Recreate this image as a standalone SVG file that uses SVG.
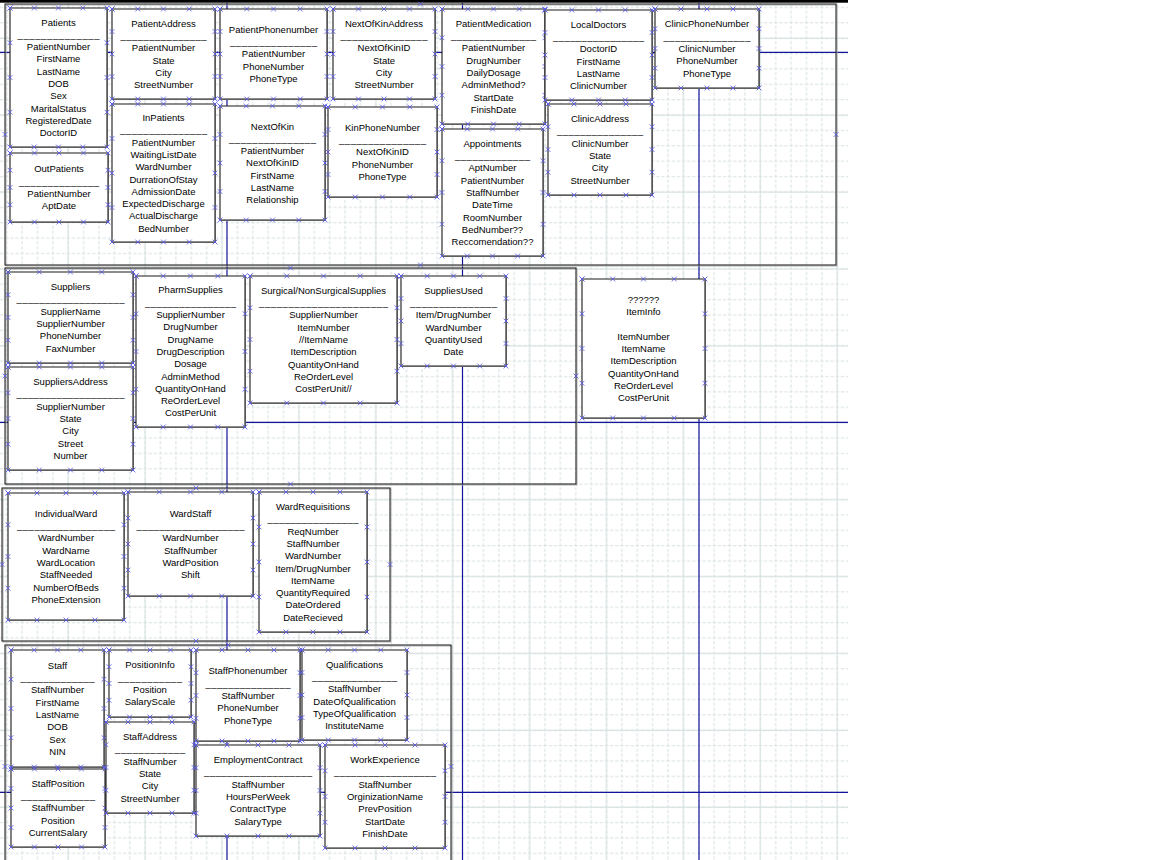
<svg xmlns="http://www.w3.org/2000/svg" width="1150" height="860" viewBox="0 0 1150 860">
<defs>
<style>
text{font-family:"Liberation Sans",Arial,sans-serif;font-size:9.5px;text-anchor:middle;fill:#000}
.box{fill:#fff;stroke:#1a1a1a;stroke-width:1.1;marker-start:url(#cp);marker-mid:url(#cp);marker-end:url(#cp)}
.sh{fill:#a4a4a4}
.ct{fill:none;stroke:#262626;stroke-width:1.1}
.cts{fill:none;stroke:#b0b0b0;stroke-width:1}
.cpts{fill:none;stroke:none;marker-start:url(#cp);marker-mid:url(#cp);marker-end:url(#cp)}
.guide{stroke:#14149a;stroke-width:1.2;fill:none}
</style>
<marker id="cp" markerUnits="userSpaceOnUse" markerWidth="6" markerHeight="6" refX="3" refY="3" overflow="visible">
<path d="M0.6 0.6L5.4 5.4M5.4 0.6L0.6 5.4" stroke="#5858e6" stroke-width="0.85" fill="none"/>
</marker>
<pattern id="minor" width="15.38" height="15.38" patternUnits="userSpaceOnUse">
<path d="M0 7.54H15.38M6.68 0V15.38" stroke="#d6e0e0" stroke-width="1" stroke-dasharray="3.4 1.727" fill="none"/>
</pattern>
<pattern id="major" width="76.9" height="76.9" patternUnits="userSpaceOnUse">
<path d="M0 38.3H76.9M68.2 0V76.9" stroke="#dbe4e4" stroke-width="1.2" fill="none"/>
</pattern>
</defs>
<rect x="0" y="0" width="1150" height="860" fill="#fff"/>
<g id="grid">
<rect x="0" y="3" width="848" height="857" fill="url(#minor)"/>
<rect x="0" y="3" width="848" height="857" fill="url(#major)"/>
<rect x="0" y="0" width="848" height="2.7" fill="#000"/>
</g>
<g id="guides">
<path class="guide" d="M227 3V860M462.5 3V860M699 3V860M0 52.3H848M0 422.3H848M0 792.3H848"/>
</g>
<g id="containers">
<rect class="cts" x="6" y="5" width="831" height="261"/>
<rect class="ct" x="5" y="4" width="831" height="261"/>
<polyline class="cpts" points="420.5,4 836,134.5 420.5,265 5,134.5"/>
<rect class="cts" x="6" y="269" width="571" height="216"/>
<rect class="ct" x="5" y="268" width="571" height="216"/>
<polyline class="cpts" points="290.5,268 576,376 290.5,484 5,376"/>
<rect class="cts" x="3" y="489" width="388" height="153"/>
<rect class="ct" x="2" y="488" width="388" height="153"/>
<polyline class="cpts" points="196,488 390,564.5 196,641 2,564.5"/>
<rect class="cts" x="6" y="646" width="446" height="243"/>
<rect class="ct" x="5" y="645" width="446" height="243"/>
<polyline class="cpts" points="228,645 451,766.5 5,766.5"/>
</g>

<g id="patients">
<rect class="sh" x="11" y="9" width="97" height="139"/>
<path class="box" d="M10 8h24.25h24.25h24.25h24.25v34.75v34.75v34.75v34.75h-24.25h-24.25h-24.25h-24.25v-34.75v-34.75v-34.75z"/>
<text x="58.5" y="25.55">Patients</text>
<text x="58.5" y="37.85" textLength="82" lengthAdjust="spacing">______________</text>
<text x="58.5" y="50.15"><tspan x="58.5">PatientNumber</tspan><tspan x="58.5" dy="12.3">FirstName</tspan><tspan x="58.5" dy="12.3">LastName</tspan><tspan x="58.5" dy="12.3">DOB</tspan><tspan x="58.5" dy="12.3">Sex</tspan><tspan x="58.5" dy="12.3">MaritalStatus</tspan><tspan x="58.5" dy="12.3">RegisteredDate</tspan><tspan x="58.5" dy="12.3">DoctorID</tspan></text>
</g>
<g id="outpatients">
<rect class="sh" x="11" y="154" width="98" height="69"/>
<path class="box" d="M10 153h24.5h24.5h24.5h24.5v17.25v17.25v17.25v17.25h-24.5h-24.5h-24.5h-24.5v-17.25v-17.25v-17.25z"/>
<text x="59" y="172.45">OutPatients</text>
<text x="59" y="184.75" textLength="80" lengthAdjust="spacing">______________</text>
<text x="59" y="197.05"><tspan x="59">PatientNumber</tspan><tspan x="59" dy="12.3">AptDate</tspan></text>
</g>
<g id="patientaddress">
<rect class="sh" x="113" y="10" width="103" height="90"/>
<path class="box" d="M112 9h25.75h25.75h25.75h25.75v22.5v22.5v22.5v22.5h-25.75h-25.75h-25.75h-25.75v-22.5v-22.5v-22.5z"/>
<text x="163.5" y="26.65">PatientAddress</text>
<text x="163.5" y="38.95" textLength="86" lengthAdjust="spacing">_______________</text>
<text x="163.5" y="51.25"><tspan x="163.5">PatientNumber</tspan><tspan x="163.5" dy="12.3">State</tspan><tspan x="163.5" dy="12.3">City</tspan><tspan x="163.5" dy="12.3">StreetNumber</tspan></text>
</g>
<g id="inpatients">
<rect class="sh" x="113" y="105" width="103" height="138"/>
<path class="box" d="M112 104h25.75h25.75h25.75h25.75v34.5v34.5v34.5v34.5h-25.75h-25.75h-25.75h-25.75v-34.5v-34.5v-34.5z"/>
<text x="163.5" y="121.05">InPatients</text>
<text x="163.5" y="133.35" textLength="87" lengthAdjust="spacing">_______________</text>
<text x="163.5" y="145.65"><tspan x="163.5">PatientNumber</tspan><tspan x="163.5" dy="12.3">WaitingListDate</tspan><tspan x="163.5" dy="12.3">WardNumber</tspan><tspan x="163.5" dy="12.3">DurrationOfStay</tspan><tspan x="163.5" dy="12.3">AdmissionDate</tspan><tspan x="163.5" dy="12.3">ExpectedDischarge</tspan><tspan x="163.5" dy="12.3">ActualDischarge</tspan><tspan x="163.5" dy="12.3">BedNumber</tspan></text>
</g>
<g id="patientphonenumber">
<rect class="sh" x="221" y="10" width="107" height="90"/>
<path class="box" d="M220 9h26.75h26.75h26.75h26.75v22.5v22.5v22.5v22.5h-26.75h-26.75h-26.75h-26.75v-22.5v-22.5v-22.5z"/>
<text x="273.5" y="32.8">PatientPhonenumber</text>
<text x="273.5" y="45.1" textLength="87" lengthAdjust="spacing">_______________</text>
<text x="273.5" y="57.4"><tspan x="273.5">PatientNumber</tspan><tspan x="273.5" dy="12.3">PhoneNumber</tspan><tspan x="273.5" dy="12.3">PhoneType</tspan></text>
</g>
<g id="nextofkin">
<rect class="sh" x="221" y="107" width="105" height="114"/>
<path class="box" d="M220 106h26.25h26.25h26.25h26.25v28.5v28.5v28.5v28.5h-26.25h-26.25h-26.25h-26.25v-28.5v-28.5v-28.5z"/>
<text x="272.5" y="129.5">NextOfKin</text>
<text x="272.5" y="141.8" textLength="87" lengthAdjust="spacing">_______________</text>
<text x="272.5" y="154.1"><tspan x="272.5">PatientNumber</tspan><tspan x="272.5" dy="12.3">NextOfKinID</tspan><tspan x="272.5" dy="12.3">FirstName</tspan><tspan x="272.5" dy="12.3">LastName</tspan><tspan x="272.5" dy="12.3">Relationship</tspan></text>
</g>
<g id="nextofkinaddress">
<rect class="sh" x="334" y="10" width="102" height="90"/>
<path class="box" d="M333 9h25.5h25.5h25.5h25.5v22.5v22.5v22.5v22.5h-25.5h-25.5h-25.5h-25.5v-22.5v-22.5v-22.5z"/>
<text x="384" y="26.65">NextOfKinAddress</text>
<text x="384" y="38.95" textLength="87" lengthAdjust="spacing">_______________</text>
<text x="384" y="51.25"><tspan x="384">NextOfKinID</tspan><tspan x="384" dy="12.3">State</tspan><tspan x="384" dy="12.3">City</tspan><tspan x="384" dy="12.3">StreetNumber</tspan></text>
</g>
<g id="kinphonenumber">
<rect class="sh" x="329" y="108" width="109" height="90"/>
<path class="box" d="M328 107h27.25h27.25h27.25h27.25v22.5v22.5v22.5v22.5h-27.25h-27.25h-27.25h-27.25v-22.5v-22.5v-22.5z"/>
<text x="382.5" y="130.8">KinPhoneNumber</text>
<text x="382.5" y="143.1" textLength="87" lengthAdjust="spacing">_______________</text>
<text x="382.5" y="155.4"><tspan x="382.5">NextOfKinID</tspan><tspan x="382.5" dy="12.3">PhoneNumber</tspan><tspan x="382.5" dy="12.3">PhoneType</tspan></text>
</g>
<g id="patientmedication">
<rect class="sh" x="443" y="10" width="103" height="115"/>
<path class="box" d="M442 9h25.75h25.75h25.75h25.75v28.75v28.75v28.75v28.75h-25.75h-25.75h-25.75h-25.75v-28.75v-28.75v-28.75z"/>
<text x="493.5" y="26.85">PatientMedication</text>
<text x="493.5" y="39.15" textLength="85" lengthAdjust="spacing">_______________</text>
<text x="493.5" y="51.45"><tspan x="493.5">PatientNumber</tspan><tspan x="493.5" dy="12.3">DrugNumber</tspan><tspan x="493.5" dy="12.3">DailyDosage</tspan><tspan x="493.5" dy="12.3">AdminMethod?</tspan><tspan x="493.5" dy="12.3">StartDate</tspan><tspan x="493.5" dy="12.3">FinishDate</tspan></text>
</g>
<g id="appointments">
<rect class="sh" x="443" y="130" width="101" height="127"/>
<path class="box" d="M442 129h25.25h25.25h25.25h25.25v31.75v31.75v31.75v31.75h-25.25h-25.25h-25.25h-25.25v-31.75v-31.75v-31.75z"/>
<text x="492.5" y="146.7">Appointments</text>
<text x="492.5" y="159" textLength="75" lengthAdjust="spacing">_____________</text>
<text x="492.5" y="171.3"><tspan x="492.5">AptNumber</tspan><tspan x="492.5" dy="12.3">PatientNumber</tspan><tspan x="492.5" dy="12.3">StaffNumber</tspan><tspan x="492.5" dy="12.3">DateTime</tspan><tspan x="492.5" dy="12.3">RoomNumber</tspan><tspan x="492.5" dy="12.3">BedNumber??</tspan><tspan x="492.5" dy="12.3">Reccomendation??</tspan></text>
</g>
<g id="localdoctors">
<rect class="sh" x="546" y="11" width="107" height="90"/>
<path class="box" d="M545 10h26.75h26.75h26.75h26.75v22.5v22.5v22.5v22.5h-26.75h-26.75h-26.75h-26.75v-22.5v-22.5v-22.5z"/>
<text x="598.5" y="27.65">LocalDoctors</text>
<text x="598.5" y="39.95" textLength="91" lengthAdjust="spacing">________________</text>
<text x="598.5" y="52.25"><tspan x="598.5">DoctorID</tspan><tspan x="598.5" dy="12.3">FirstName</tspan><tspan x="598.5" dy="12.3">LastName</tspan><tspan x="598.5" dy="12.3">ClinicNumber</tspan></text>
</g>
<g id="clinicaddress">
<rect class="sh" x="549" y="105" width="104" height="91"/>
<path class="box" d="M548 104h26h26h26h26v22.75v22.75v22.75v22.75h-26h-26h-26h-26v-22.75v-22.75v-22.75z"/>
<text x="600" y="122.15">ClinicAddress</text>
<text x="600" y="134.45" textLength="86" lengthAdjust="spacing">_______________</text>
<text x="600" y="146.75"><tspan x="600">ClinicNumber</tspan><tspan x="600" dy="12.3">State</tspan><tspan x="600" dy="12.3">City</tspan><tspan x="600" dy="12.3">StreetNumber</tspan></text>
</g>
<g id="clinicphonenumber">
<rect class="sh" x="656" y="10" width="104" height="79"/>
<path class="box" d="M655 9h26h26h26h26v19.75v19.75v19.75v19.75h-26h-26h-26h-26v-19.75v-19.75v-19.75z"/>
<text x="707" y="27.3">ClinicPhoneNumber</text>
<text x="707" y="39.6" textLength="87" lengthAdjust="spacing">_______________</text>
<text x="707" y="51.9"><tspan x="707">ClinicNumber</tspan><tspan x="707" dy="12.3">PhoneNumber</tspan><tspan x="707" dy="12.3">PhoneType</tspan></text>
</g>

<g id="suppliers">
<rect class="sh" x="9" y="273" width="125" height="91"/>
<path class="box" d="M8 272h31.25h31.25h31.25h31.25v22.75v22.75v22.75v22.75h-31.25h-31.25h-31.25h-31.25v-22.75v-22.75v-22.75z"/>
<text x="70.5" y="290.15">Suppliers</text>
<text x="70.5" y="302.45" textLength="108" lengthAdjust="spacing">___________________</text>
<text x="70.5" y="314.75"><tspan x="70.5">SupplierName</tspan><tspan x="70.5" dy="12.3">SupplierNumber</tspan><tspan x="70.5" dy="12.3">PhoneNumber</tspan><tspan x="70.5" dy="12.3">FaxNumber</tspan></text>
</g>
<g id="suppliersaddress">
<rect class="sh" x="9" y="368" width="125" height="103"/>
<path class="box" d="M8 367h31.25h31.25h31.25h31.25v25.75v25.75v25.75v25.75h-31.25h-31.25h-31.25h-31.25v-25.75v-25.75v-25.75z"/>
<text x="70.5" y="385">SuppliersAddress</text>
<text x="70.5" y="397.3" textLength="108" lengthAdjust="spacing">___________________</text>
<text x="70.5" y="409.6"><tspan x="70.5">SupplierNumber</tspan><tspan x="70.5" dy="12.3">State</tspan><tspan x="70.5" dy="12.3">City</tspan><tspan x="70.5" dy="12.3">Street</tspan><tspan x="70.5" dy="12.3">Number</tspan></text>
</g>
<g id="pharmsupplies">
<rect class="sh" x="137" y="277" width="109" height="151"/>
<path class="box" d="M136 276h27.25h27.25h27.25h27.25v37.75v37.75v37.75v37.75h-27.25h-27.25h-27.25h-27.25v-37.75v-37.75v-37.75z"/>
<text x="190.5" y="293.4">PharmSupplies</text>
<text x="190.5" y="305.7" textLength="91" lengthAdjust="spacing">________________</text>
<text x="190.5" y="318"><tspan x="190.5">SupplierNumber</tspan><tspan x="190.5" dy="12.3">DrugNumber</tspan><tspan x="190.5" dy="12.3">DrugName</tspan><tspan x="190.5" dy="12.3">DrugDescription</tspan><tspan x="190.5" dy="12.3">Dosage</tspan><tspan x="190.5" dy="12.3">AdminMethod</tspan><tspan x="190.5" dy="12.3">QuantityOnHand</tspan><tspan x="190.5" dy="12.3">ReOrderLevel</tspan><tspan x="190.5" dy="12.3">CostPerUnit</tspan></text>
</g>
<g id="surgicalsupplies">
<rect class="sh" x="251" y="277" width="147" height="127"/>
<path class="box" d="M250 276h36.75h36.75h36.75h36.75v31.75v31.75v31.75v31.75h-36.75h-36.75h-36.75h-36.75v-31.75v-31.75v-31.75z"/>
<text x="323.5" y="293.7">Surgical/NonSurgicalSupplies</text>
<text x="323.5" y="306" textLength="129" lengthAdjust="spacing">______________________</text>
<text x="323.5" y="318.3"><tspan x="323.5">SupplierNumber</tspan><tspan x="323.5" dy="12.3">ItemNumber</tspan><tspan x="323.5" dy="12.3">//ItemName</tspan><tspan x="323.5" dy="12.3">ItemDescription</tspan><tspan x="323.5" dy="12.3">QuantityOnHand</tspan><tspan x="323.5" dy="12.3">ReOrderLevel</tspan><tspan x="323.5" dy="12.3">CostPerUnit//</tspan></text>
</g>
<g id="suppliesused">
<rect class="sh" x="402" y="277" width="105" height="90"/>
<path class="box" d="M401 276h26.25h26.25h26.25h26.25v22.5v22.5v22.5v22.5h-26.25h-26.25h-26.25h-26.25v-22.5v-22.5v-22.5z"/>
<text x="453.5" y="293.65">SuppliesUsed</text>
<text x="453.5" y="305.95" textLength="87" lengthAdjust="spacing">_______________</text>
<text x="453.5" y="318.25"><tspan x="453.5">Item/DrugNumber</tspan><tspan x="453.5" dy="12.3">WardNumber</tspan><tspan x="453.5" dy="12.3">QuantityUsed</tspan><tspan x="453.5" dy="12.3">Date</tspan></text>
</g>
<g id="iteminfo">
<rect class="sh" x="583" y="280" width="123" height="139"/>
<path class="box" d="M582 279h30.75h30.75h30.75h30.75v34.75v34.75v34.75v34.75h-30.75h-30.75h-30.75h-30.75v-34.75v-34.75v-34.75z"/>
<text x="643.5" y="302.7"><tspan x="643.5">??????</tspan><tspan x="643.5" dy="12.3">ItemInfo</tspan><tspan x="643.5" dy="24.6">ItemNumber</tspan><tspan x="643.5" dy="12.3">ItemName</tspan><tspan x="643.5" dy="12.3">ItemDescription</tspan><tspan x="643.5" dy="12.3">QuantityOnHand</tspan><tspan x="643.5" dy="12.3">ReOrderLevel</tspan><tspan x="643.5" dy="12.3">CostPerUnit</tspan></text>
</g>

<g id="individualward">
<rect class="sh" x="9" y="494" width="116" height="127"/>
<path class="box" d="M8 493h29h29h29h29v31.75v31.75v31.75v31.75h-29h-29h-29h-29v-31.75v-31.75v-31.75z"/>
<text x="66" y="516.85">IndividualWard</text>
<text x="66" y="529.15" textLength="98" lengthAdjust="spacing">_________________</text>
<text x="66" y="541.45"><tspan x="66">WardNumber</tspan><tspan x="66" dy="12.3">WardName</tspan><tspan x="66" dy="12.3">WardLocation</tspan><tspan x="66" dy="12.3">StaffNeeded</tspan><tspan x="66" dy="12.3">NumberOfBeds</tspan><tspan x="66" dy="12.3">PhoneExtension</tspan></text>
</g>
<g id="wardstaff">
<rect class="sh" x="129" y="493" width="125" height="104"/>
<path class="box" d="M128 492h31.25h31.25h31.25h31.25v26v26v26v26h-31.25h-31.25h-31.25h-31.25v-26v-26v-26z"/>
<text x="190.5" y="516.65">WardStaff</text>
<text x="190.5" y="528.95" textLength="108" lengthAdjust="spacing">___________________</text>
<text x="190.5" y="541.25"><tspan x="190.5">WardNumber</tspan><tspan x="190.5" dy="12.3">StaffNumber</tspan><tspan x="190.5" dy="12.3">WardPosition</tspan><tspan x="190.5" dy="12.3">Shift</tspan></text>
</g>
<g id="wardrequisitions">
<rect class="sh" x="260" y="493" width="108" height="140"/>
<path class="box" d="M259 492h27h27h27h27v35v35v35v35h-27h-27h-27h-27v-35v-35v-35z"/>
<text x="313" y="510.05">WardRequisitions</text>
<text x="313" y="522.35" textLength="91" lengthAdjust="spacing">________________</text>
<text x="313" y="534.65"><tspan x="313">ReqNumber</tspan><tspan x="313" dy="12.3">StaffNumber</tspan><tspan x="313" dy="12.3">WardNumber</tspan><tspan x="313" dy="12.3">Item/DrugNumber</tspan><tspan x="313" dy="12.3">ItemName</tspan><tspan x="313" dy="12.3">QuantityRequired</tspan><tspan x="313" dy="12.3">DateOrdered</tspan><tspan x="313" dy="12.3">DateRecieved</tspan></text>
</g>

<g id="staff">
<rect class="sh" x="12" y="651" width="93" height="117"/>
<path class="box" d="M11 650h23.25h23.25h23.25h23.25v29.25v29.25v29.25v29.25h-23.25h-23.25h-23.25h-23.25v-29.25v-29.25v-29.25z"/>
<text x="57.5" y="668.85">Staff</text>
<text x="57.5" y="681.15" textLength="74" lengthAdjust="spacing">_____________</text>
<text x="57.5" y="693.45"><tspan x="57.5">StaffNumber</tspan><tspan x="57.5" dy="12.3">FirstName</tspan><tspan x="57.5" dy="12.3">LastName</tspan><tspan x="57.5" dy="12.3">DOB</tspan><tspan x="57.5" dy="12.3">Sex</tspan><tspan x="57.5" dy="12.3">NIN</tspan></text>
</g>
<g id="staffposition">
<rect class="sh" x="12" y="770" width="94" height="78"/>
<path class="box" d="M11 769h23.5h23.5h23.5h23.5v19.5v19.5v19.5v19.5h-23.5h-23.5h-23.5h-23.5v-19.5v-19.5v-19.5z"/>
<text x="58" y="786.8">StaffPosition</text>
<text x="58" y="799.1" textLength="74" lengthAdjust="spacing">_____________</text>
<text x="58" y="811.4"><tspan x="58">StaffNumber</tspan><tspan x="58" dy="12.3">Position</tspan><tspan x="58" dy="12.3">CurrentSalary</tspan></text>
</g>
<g id="positioninfo">
<rect class="sh" x="110" y="651" width="82" height="67"/>
<path class="box" d="M109 650h20.5h20.5h20.5h20.5v16.75v16.75v16.75v16.75h-20.5h-20.5h-20.5h-20.5v-16.75v-16.75v-16.75z"/>
<text x="150" y="668.45">PositionInfo</text>
<text x="150" y="680.75" textLength="64" lengthAdjust="spacing">___________</text>
<text x="150" y="693.05"><tspan x="150">Position</tspan><tspan x="150" dy="12.3">SalaryScale</tspan></text>
</g>
<g id="staffaddress">
<rect class="sh" x="107" y="723" width="88" height="91"/>
<path class="box" d="M106 722h22h22h22h22v22.75v22.75v22.75v22.75h-22h-22h-22h-22v-22.75v-22.75v-22.75z"/>
<text x="150" y="740.15">StaffAddress</text>
<text x="150" y="752.45" textLength="70" lengthAdjust="spacing">____________</text>
<text x="150" y="764.75"><tspan x="150">StaffNumber</tspan><tspan x="150" dy="12.3">State</tspan><tspan x="150" dy="12.3">City</tspan><tspan x="150" dy="12.3">StreetNumber</tspan></text>
</g>
<g id="staffphonenumber">
<rect class="sh" x="197" y="651" width="104" height="91"/>
<path class="box" d="M196 650h26h26h26h26v22.75v22.75v22.75v22.75h-26h-26h-26h-26v-22.75v-22.75v-22.75z"/>
<text x="248" y="674.3">StaffPhonenumber</text>
<text x="248" y="686.6" textLength="85" lengthAdjust="spacing">_______________</text>
<text x="248" y="698.9"><tspan x="248">StaffNumber</tspan><tspan x="248" dy="12.3">PhoneNumber</tspan><tspan x="248" dy="12.3">PhoneType</tspan></text>
</g>
<g id="qualifications">
<rect class="sh" x="303" y="651" width="105" height="90"/>
<path class="box" d="M302 650h26.25h26.25h26.25h26.25v22.5v22.5v22.5v22.5h-26.25h-26.25h-26.25h-26.25v-22.5v-22.5v-22.5z"/>
<text x="354.5" y="667.65">Qualifications</text>
<text x="354.5" y="679.95" textLength="85" lengthAdjust="spacing">_______________</text>
<text x="354.5" y="692.25"><tspan x="354.5">StaffNumber</tspan><tspan x="354.5" dy="12.3">DateOfQualification</tspan><tspan x="354.5" dy="12.3">TypeOfQualification</tspan><tspan x="354.5" dy="12.3">InstituteName</tspan></text>
</g>
<g id="employmentcontract">
<rect class="sh" x="197" y="746" width="124" height="91"/>
<path class="box" d="M196 745h31h31h31h31v22.75v22.75v22.75v22.75h-31h-31h-31h-31v-22.75v-22.75v-22.75z"/>
<text x="258" y="763.15">EmploymentContract</text>
<text x="258" y="775.45" textLength="108" lengthAdjust="spacing">___________________</text>
<text x="258" y="787.75"><tspan x="258">StaffNumber</tspan><tspan x="258" dy="12.3">HoursPerWeek</tspan><tspan x="258" dy="12.3">ContractType</tspan><tspan x="258" dy="12.3">SalaryType</tspan></text>
</g>
<g id="workexperience">
<rect class="sh" x="326" y="746" width="120" height="103"/>
<path class="box" d="M325 745h30h30h30h30v25.75v25.75v25.75v25.75h-30h-30h-30h-30v-25.75v-25.75v-25.75z"/>
<text x="385" y="763">WorkExperience</text>
<text x="385" y="775.3" textLength="102" lengthAdjust="spacing">__________________</text>
<text x="385" y="787.6"><tspan x="385">StaffNumber</tspan><tspan x="385" dy="12.3">OrginizationName</tspan><tspan x="385" dy="12.3">PrevPosition</tspan><tspan x="385" dy="12.3">StartDate</tspan><tspan x="385" dy="12.3">FinishDate</tspan></text>
</g>
</svg>
